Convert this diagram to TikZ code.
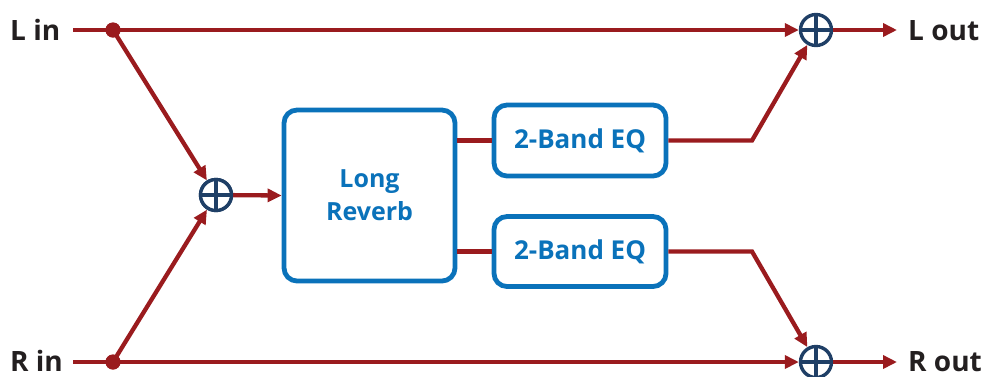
\documentclass[tikz,border=0pt]{standalone}
\usepackage{fontspec}
\setmainfont{Open Sans}
\usetikzlibrary{arrows.meta,calc}
\definecolor{sigred}{HTML}{9A1B1E}
\definecolor{boxblue}{HTML}{0A72BA}
\definecolor{navy}{HTML}{1F3F66}
\definecolor{ink}{HTML}{231F20}
\begin{document}
\begin{tikzpicture}[x=1pt,y=-1pt,
  sig/.style={draw=sigred,line width=4.3pt},
  arr/.style={sig,-{Triangle[length=14pt,width=13pt]}},
  sumnode/.style={circle,draw=navy,line width=3.4pt,fill=white,minimum size=31pt,inner sep=0pt,
    path picture={\draw[navy,line width=3.4pt] (path picture bounding box.north)--(path picture bounding box.south)
      (path picture bounding box.west)--(path picture bounding box.east);}},
  dotnode/.style={circle,fill=sigred,minimum size=15pt,inner sep=0pt},
  lbl/.style={font=\bfseries\fontsize{28}{30}\selectfont,text=ink,inner sep=0pt},
  fx/.style={draw=boxblue,line width=4.8pt,rounded corners=13pt,fill=white,
    font=\bfseries\fontsize{25}{33}\selectfont,text=boxblue,align=center,inner sep=0pt}
  ]
\useasboundingbox (0,0) rectangle (987,376);
% nodes
\node[lbl,anchor=base west] (lin) at (10,40) {L in};
\node[lbl,anchor=base west] (rin) at (10,371) {R in};
\node[lbl,anchor=base west] (lout) at (908,40) {L out};
\node[lbl,anchor=base west] (rout) at (908,371) {R out};
\node[dotnode] (dl) at (113,30) {};
\node[dotnode] (dr) at (113,362) {};
\node[sumnode] (pin) at (216,195) {};
\node[sumnode] (pL) at (816,30) {};
\node[sumnode] (pR) at (816,362) {};
\node[fx,minimum width=171pt,minimum height=171pt] (rev) at (369.5,195.5) {Long\\Reverb};
\node[fx,minimum width=172pt,minimum height=71pt,font=\bfseries\fontsize{26}{30}\selectfont] (eq1) at (580,140.5) {2-Band EQ};
\node[fx,minimum width=172pt,minimum height=70pt,font=\bfseries\fontsize{26}{30}\selectfont] (eq2) at (580,251.5) {2-Band EQ};
\coordinate (k1) at (752,140.5);
\coordinate (k2) at (752,251.5);
\coordinate (lsL) at (73,30);
\coordinate (lsR) at (73,362);
\coordinate (eL) at (897,30);
\coordinate (eR) at (897,362);
% connectors
\draw[sig] (lsL) -- (dl.center);
\draw[sig] (lsR) -- (dr.center);
\draw[arr] (dl.center) -- (pL);
\draw[arr] (dr.center) -- (pR);
\draw[arr] (dl.center) -- (pin);
\draw[arr] (dr.center) -- (pin);
\draw[arr] (pin) -- (rev.west);
\draw[arr] (pL) -- (eL);
\draw[arr] (pR) -- (eR);
\draw[sig] (rev.east |- eq1.west) -- (eq1.west);
\draw[sig] (rev.east |- eq2.west) -- (eq2.west);
\draw[arr] (eq1.east) -- (k1) -- (pL);
\draw[arr] (eq2.east) -- (k2) -- (pR);
\node[dotnode] at (dl) {};
\node[dotnode] at (dr) {};
\node[sumnode] at (pin) {};
\end{tikzpicture}
\end{document}
